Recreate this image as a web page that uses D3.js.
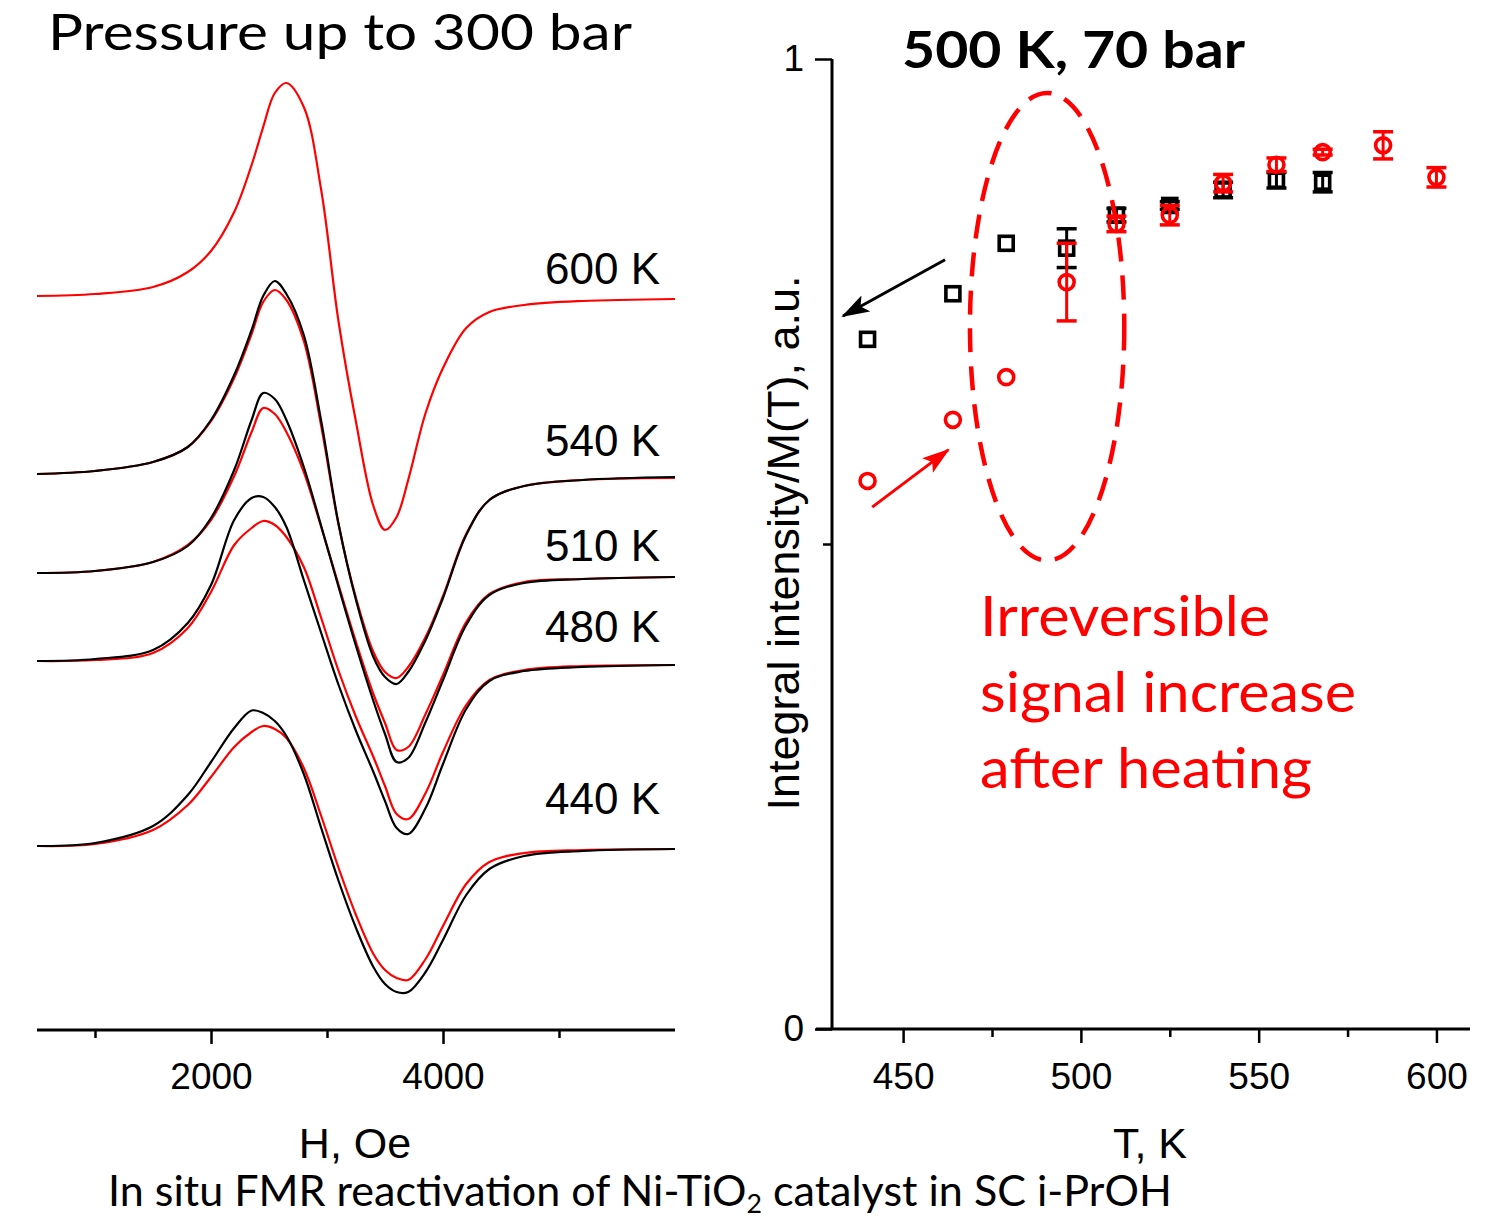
<!DOCTYPE html>
<html><head><meta charset="utf-8">
<script src="https://cdn.jsdelivr.net/npm/d3@7"></script>
<style>body{margin:0;background:#fff}svg{display:block}</style>
</head><body>
<svg id="c" width="1504" height="1222"></svg>
<script>
// ---------- DATA ----------
// Left panel: FMR spectra (field in Oe, signal in a.u. incl. vertical offset)
const fieldOe = [500,1000,1500,1800,2000,2200,2350,2450,2550,2650,2800,2950,3100,3250,3400,3500,3600,3700,3850,4000,4200,4400,4700,5200,6000];
const sig600red = [73.4,73.6,74.3,75.8,77.9,81.8,86.5,90.3,93.7,94.7,92.3,84.0,70.8,60.8,52.4,50.0,51.3,55.0,61.7,66.2,70.2,71.8,72.5,72.9,73.1];
const sig540black = [55.6,55.9,56.8,58.3,61.0,65.5,70.0,73.4,74.9,73.6,69.5,60.9,50.6,43.0,37.3,35.3,34.6,35.8,39.0,43.2,49.5,53.0,54.4,55.0,55.3];
const sig540red = [55.6,55.9,56.8,58.3,60.9,65.2,69.6,72.8,74.0,73.0,68.9,60.4,50.5,43.2,37.8,35.8,35.2,36.3,39.3,43.4,49.6,53.0,54.4,55.0,55.2];
const sig510black = [45.7,45.9,46.8,48.4,51.2,56.0,61.0,63.7,63.1,61.0,56.3,50.4,44.3,38.4,32.9,29.6,26.8,27.2,30.8,35.0,40.5,43.5,44.7,45.1,45.3];
const sig510red = [45.7,45.9,46.8,48.5,51.0,55.4,59.8,62.2,61.6,59.8,55.8,50.3,44.5,38.8,33.6,30.7,28.0,28.3,31.6,35.5,40.8,43.6,44.8,45.1,45.3];
const sig480black = [36.9,37.1,38.0,40.7,44.5,51.0,53.2,53.3,52.3,50.3,45.0,39.7,34.5,29.9,25.8,22.9,20.2,19.6,22.2,26.6,32.1,34.9,35.9,36.3,36.5];
const sig480red = [36.9,37.0,37.7,40.2,43.8,48.5,50.2,50.9,50.5,49.3,46.3,41.2,35.9,31.3,27.3,24.4,21.6,21.1,23.7,27.8,32.5,35.0,36.0,36.4,36.5];
const sig440black = [18.4,18.7,20.4,23.5,26.8,30.2,31.95,31.7,30.9,29.4,25.6,20.2,14.9,10.2,6.3,4.6,3.8,3.8,5.8,9.0,13.5,16.1,17.4,17.9,18.1];
const sig440red = [18.4,18.6,20.0,22.5,25.3,28.3,29.8,30.4,30.1,29.2,26.2,21.4,16.2,11.5,7.6,6.0,5.2,5.0,7.1,10.4,14.6,16.8,17.7,18.0,18.1];
const spectraLabels = ["600 K","540 K","510 K","480 K","440 K"];
const leftTickValues = [1000,2000,3000,4000,5000];
const leftTickLabels = ["","2000","","4000",""];

// Right panel: integral intensity / M(T)
const tempBlack = [440,464,479,496,510,525,540,555,568];
const valBlack  = [0.711,0.758,0.810,0.805,0.839,0.849,0.865,0.875,0.873];
const errBlack  = [0,0,0,0.020,0.007,0.004,0.008,0.008,0.010];
const tempRed = [440,464,479,496,510,525,540,555,568,585,600];
const valRed  = [0.565,0.628,0.672,0.770,0.830,0.839,0.872,0.891,0.904,0.911,0.878];
const errRed  = [0,0,0,0.040,0.008,0.010,0.009,0.007,0.003,0.014,0.010];
const rightTickValues = [450,475,500,525,550,575,600];
const rightTickLabels = ["450","","500","","550","","600"];
const yTickValues = [0,0.5,1];
const yTickLabels = ["0","","1"];

// ---------- LAYOUT ----------
const svg = d3.select("#c");
const ARIAL = "'Liberation Sans', Arial, sans-serif";
const CAL = "Lato, 'Open Sans', sans-serif";

const xL = d3.scaleLinear().domain([500,6000]).range([37,675]);
const yL = d3.scaleLinear().domain([0,100]).range([1030,30]);
const xR = d3.scaleLinear().domain([430,610]).range([832,1472]);
const yR = d3.scaleLinear().domain([0,1]).range([1029,59]);

function fitWidth(sel, w){
  const cur = sel.node().getComputedTextLength();
  const fs = parseFloat(sel.attr("font-size"));
  sel.attr("font-size", (fs*w/cur).toFixed(2));
}

// ---------- LEFT PANEL ----------
const line = d3.line().x((d,i)=>xL(fieldOe[i])).y(d=>yL(d)).curve(d3.curveCatmullRom.alpha(0.5));
const curves = [
  {d:sig440red,c:"#ff0000"},{d:sig440black,c:"#000"},
  {d:sig480red,c:"#ff0000"},{d:sig480black,c:"#000"},
  {d:sig510red,c:"#ff0000"},{d:sig510black,c:"#000"},
  {d:sig540red,c:"#ff0000"},{d:sig540black,c:"#000"},
  {d:sig600red,c:"#ff0000"}
];
svg.append("g").selectAll("path").data(curves).join("path")
  .attr("d",c=>line(c.d)).attr("fill","none").attr("stroke",c=>c.c).attr("stroke-width",2.2);

const labelY = [74.6,57.4,46.9,38.8,21.6];
svg.append("g").selectAll("text").data(spectraLabels).join("text")
  .attr("x",660).attr("y",(d,i)=>yL(labelY[i])).attr("text-anchor","end")
  .attr("font-family",ARIAL).attr("font-size",44).attr("fill","#000").text(d=>d);

const axL = svg.append("g").attr("transform","translate(0,1030)")
  .call(d3.axisBottom(xL).tickValues(leftTickValues).tickFormat((d,i)=>leftTickLabels[i]).tickSizeOuter(0).tickPadding(27));
axL.select(".domain").attr("stroke","#000").attr("stroke-width",3).attr("d","M37,0H675");
axL.selectAll(".tick line").attr("stroke","#000").attr("stroke-width",2.5).attr("y2",(d,i)=>leftTickLabels[i]?14:8);
axL.selectAll(".tick text").attr("font-family",ARIAL).attr("font-size",37).attr("fill","#000");

svg.append("text").attr("x",355).attr("y",1158).attr("text-anchor","middle")
  .attr("font-family",ARIAL).attr("font-size",43).text("H, Oe");

svg.append("text").attr("x",48).attr("y",50)
  .attr("font-family",CAL).attr("font-size",50).attr("fill","#000")
  .attr("textLength",584).attr("lengthAdjust","spacingAndGlyphs").text("Pressure up to 300 bar");

// ---------- RIGHT PANEL ----------
const axX = svg.append("g").attr("transform","translate(0,1029)")
  .call(d3.axisBottom(xR).tickValues(rightTickValues).tickFormat((d,i)=>rightTickLabels[i]).tickSizeOuter(0).tickPadding(28));
axX.select(".domain").attr("stroke","#000").attr("stroke-width",3).attr("d","M816,0H1470");
axX.selectAll(".tick line").attr("stroke","#000").attr("stroke-width",2.5).attr("y2",(d,i)=>rightTickLabels[i]?14:8);
axX.selectAll(".tick text").attr("font-family",ARIAL).attr("font-size",37).attr("fill","#000");

const axY = svg.append("g").attr("transform","translate(832,0)")
  .call(d3.axisLeft(yR).tickValues(yTickValues).tickFormat((d,i)=>yTickLabels[i]).tickSizeOuter(0).tickPadding(22));
axY.select(".domain").attr("stroke","#000").attr("stroke-width",3).attr("d","M0,"+yR(1)+"V"+yR(0));
axY.selectAll(".tick line").attr("stroke","#000").attr("stroke-width",2.5).attr("x2",(d,i)=>yTickLabels[i]?-17:-9);
axY.selectAll(".tick text").attr("font-family",ARIAL).attr("font-size",37).attr("fill","#000").attr("dy","0.3em");

svg.append("text").attr("x",1150).attr("y",1158).attr("text-anchor","middle")
  .attr("font-family",ARIAL).attr("font-size",43).text("T, K");

const ylab = svg.append("text").attr("transform","translate(799,"+543+") rotate(-90)")
  .attr("text-anchor","middle").attr("font-family",ARIAL).attr("font-size",42).text("Integral intensity/M(T), a.u.");
fitWidth(ylab,535);

// error bars + markers
function drawSeries(temps, vals, errs, color, shape){
  const g = svg.append("g").attr("stroke",color).attr("stroke-width",3).attr("fill","none");
  temps.forEach((t,i)=>{
    if(errs[i]>0){
      const x = xR(t), y1 = yR(vals[i]+errs[i]), y2 = yR(vals[i]-errs[i]);
      g.append("line").attr("x1",x).attr("x2",x).attr("y1",y1).attr("y2",y2);
      g.append("line").attr("x1",x-10).attr("x2",x+10).attr("y1",y1).attr("y2",y1).attr("stroke-width",3.5);
      g.append("line").attr("x1",x-10).attr("x2",x+10).attr("y1",y2).attr("y2",y2).attr("stroke-width",3.5);
    }
  });
  if(shape==="square"){
    g.selectAll("rect").data(temps).join("rect")
      .attr("x",(d)=>xR(d)-7).attr("y",(d,i)=>yR(vals[i])-7).attr("width",14).attr("height",14).attr("stroke-width",3.6);
  } else {
    g.selectAll("circle").data(temps).join("circle")
      .attr("cx",d=>xR(d)).attr("cy",(d,i)=>yR(vals[i])).attr("r",7.5).attr("stroke-width",3.6);
  }
}
drawSeries(tempBlack,valBlack,errBlack,"#000","square");
drawSeries(tempRed,valRed,errRed,"#ff0000","circle");

// annotations
const ell = {t:490.5, v:0.724, dt:21.7, dv:0.241};
svg.append("ellipse").attr("cx",xR(ell.t)).attr("cy",yR(ell.v))
  .attr("rx",xR(ell.t+ell.dt)-xR(ell.t)).attr("ry",yR(ell.v-ell.dv)-yR(ell.v))
  .attr("fill","none").attr("stroke","#ff0000").attr("stroke-width",4.5).attr("stroke-dasharray","24,14");

const defs = svg.append("defs");
[["ahB","#000"],["ahR","#ff0000"]].forEach(([id,c])=>{
  defs.append("marker").attr("id",id).attr("markerUnits","userSpaceOnUse")
    .attr("viewBox","0 0 28 20").attr("refX",26).attr("refY",10)
    .attr("markerWidth",28).attr("markerHeight",20).attr("orient","auto")
    .append("path").attr("d","M0,1 L28,10 L0,19 L6,10 Z").attr("fill",c);
});
svg.append("line").attr("x1",xR(461.8)).attr("y1",yR(0.793)).attr("x2",xR(433.1)).attr("y2",yR(0.735))
  .attr("stroke","#000").attr("stroke-width",3).attr("marker-end","url(#ahB)");
svg.append("line").attr("x1",xR(441.3)).attr("y1",yR(0.538)).attr("x2",xR(462.7)).attr("y2",yR(0.597))
  .attr("stroke","#ff0000").attr("stroke-width",3).attr("marker-end","url(#ahR)");

svg.append("text").attr("x",902).attr("y",68).attr("font-family",CAL).attr("font-weight",700)
  .attr("font-size",52).attr("textLength",343).attr("lengthAdjust","spacingAndGlyphs").text("500 K, 70 bar");

const redLines = ["Irreversible","signal increase","after heating"];
const redW = [290,376,332];
const redBase = [636,712,788];
redLines.forEach((s,i)=>{
  svg.append("text").attr("x",980).attr("y",redBase[i]).attr("font-family",CAL)
    .attr("font-size",56).attr("fill","#ff0000")
    .attr("textLength",redW[i]).attr("lengthAdjust","spacingAndGlyphs").text(s);
});

// caption
const cap = svg.append("text").attr("x",108).attr("y",1206).attr("font-family",CAL).attr("font-size",40);
cap.append("tspan").text("In situ FMR reactivation of Ni-TiO");
cap.append("tspan").attr("font-size","0.62em").attr("dy",7).text("2");
cap.append("tspan").attr("dy",-7).text(" catalyst in SC i-PrOH");
const capW = cap.node().getComputedTextLength();
cap.attr("font-size",(40*1064/capW).toFixed(2));
</script>
</body></html>
